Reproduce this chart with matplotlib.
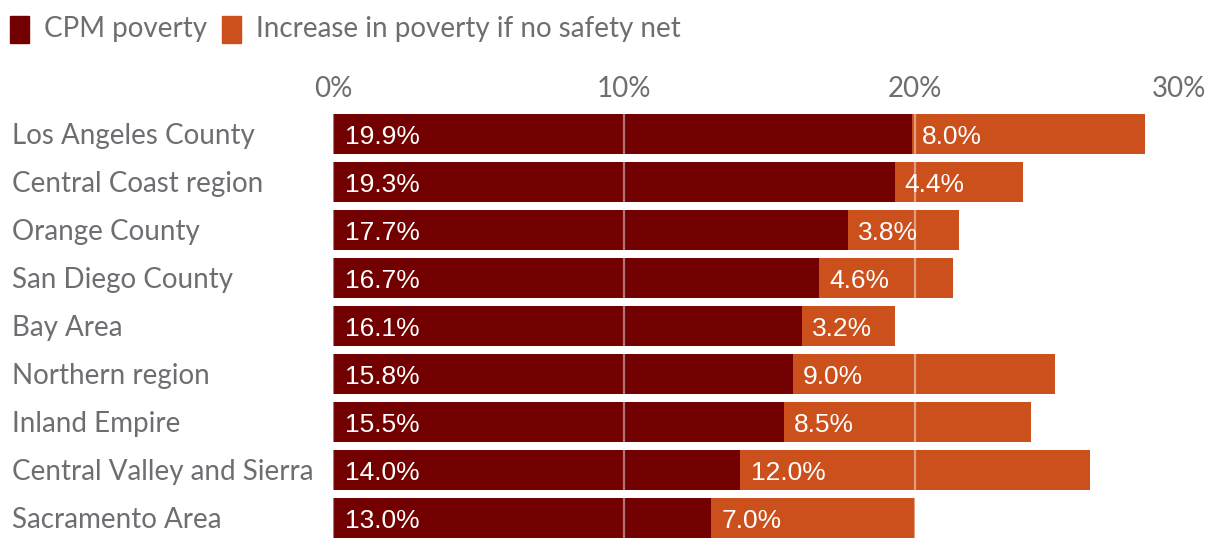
import matplotlib
matplotlib.use("Agg")
import matplotlib.pyplot as plt
from matplotlib.patches import Rectangle

regions = ["Los Angeles County", "Central Coast region", "Orange County", "San Diego County",
           "Bay Area", "Northern region", "Inland Empire", "Central Valley and Sierra", "Sacramento Area"]
cpm_poverty = [19.9, 19.3, 17.7, 16.7, 16.1, 15.8, 15.5, 14.0, 13.0]
increase_no_net = [8.0, 4.4, 3.8, 4.6, 3.2, 9.0, 8.5, 12.0, 7.0]
x_ticks = [0, 10, 20, 30]
x_tick_labels = ["0%", "10%", "20%", "30%"]
legend_labels = ["CPM poverty", "Increase in poverty if no safety net"]

C_DARK = "#720000"
C_ORANGE = "#cb501c"
C_TEXT = "#6d6e71"

plt.rcParams['font.family'] = ['Lato', 'DejaVu Sans']

fig = plt.figure(figsize=(12.2, 5.48), dpi=100)
ax = fig.add_axes([333/1220, 6/548, (1206-333)/1220, 432/548])

y = list(range(len(regions)))
ax.barh(y, cpm_poverty, height=0.833, color=C_DARK, zorder=2)
ax.barh(y, increase_no_net, left=cpm_poverty, height=0.833, color=C_ORANGE, zorder=2)

for xv in x_ticks:
    ax.axvline(xv, color="white", alpha=0.45, lw=1.6, zorder=3)

lbl_font = ['Liberation Sans', 'DejaVu Sans']
for i in y:
    ax.text(0.4, i + 0.07, f"{cpm_poverty[i]:.1f}%", color="white", fontsize=19, family=lbl_font,
            va="center", ha="left", zorder=4)
    ax.text(cpm_poverty[i] + 0.35, i + 0.07, f"{increase_no_net[i]:.1f}%", color="white", fontsize=19,
            family=lbl_font, va="center", ha="left", zorder=4)

ax.set_xlim(0, 30)
ax.set_ylim(len(regions) - 0.5, -0.5)
ax.set_xticks(x_ticks)
ax.set_xticklabels(x_tick_labels)
ax.xaxis.tick_top()
ax.tick_params(axis="x", length=0, pad=6, labelsize=20, labelcolor=C_TEXT)
ax.get_xticklabels()[-1].set_horizontalalignment("right")
ax.set_yticks([])
for s in ax.spines.values():
    s.set_visible(False)

fig.canvas.draw()
for i, name in enumerate(regions):
    ax.text(12/1220, (ax.transData.transform((0, i))[1] - 2) / 548, name, transform=fig.transFigure,
            fontsize=20, color=C_TEXT, va="center", ha="left")

# legend
fig.patches.append(Rectangle((10/1220, 1 - 43/548), 19/1220, 27/548, transform=fig.transFigure,
                             color=C_DARK))
fig.text(44/1220, 1 - 29/548, legend_labels[0], fontsize=20, color=C_TEXT, va="center", ha="left")
fig.patches.append(Rectangle((222/1220, 1 - 43/548), 19/1220, 27/548, transform=fig.transFigure,
                             color=C_ORANGE))
fig.text(256/1220, 1 - 29/548, legend_labels[1], fontsize=20, color=C_TEXT, va="center", ha="left")

fig.savefig("out.png", dpi=100)
